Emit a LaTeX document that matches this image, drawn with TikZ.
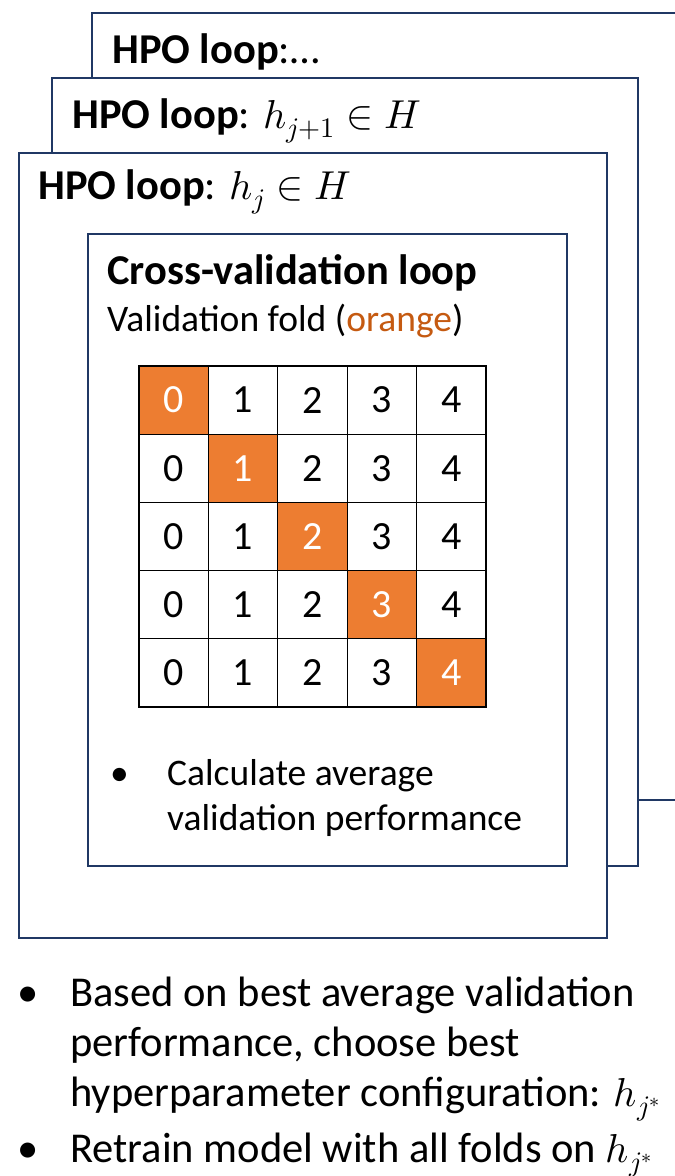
\documentclass[tikz,border=0pt]{standalone}
\usepackage{fontspec}
\usepackage{unicode-math}
\setmainfont{Carlito}
\setmathfont{Latin Modern Math}[Scale=0.95]
\usetikzlibrary{positioning}

\definecolor{loopblue}{HTML}{203864}
\definecolor{foldorange}{HTML}{ED7D31}
\definecolor{wordorange}{HTML}{C55A11}

\tikzset{
  loopbox/.style={draw=loopblue, line width=2pt, fill=white, anchor=north west, inner sep=0pt},
  looptitle/.style={anchor=base west, inner sep=0pt, font=\fontsize{42.5}{50}\selectfont},
  cvtext/.style={anchor=base west, inner sep=0pt, font=\fontsize{37.5}{45}\selectfont},
  bigtext/.style={anchor=base west, inner sep=0pt, font=\fontsize{42.5}{50}\selectfont},
  traincell/.style={draw=black, line width=1.3pt, fill=white, minimum width=69.4pt, minimum height=68.2pt, inner sep=0pt, font=\fontsize{40}{48}\selectfont},
  foldcell/.style={traincell, fill=foldorange, text=white}
}

\begin{document}
\begin{tikzpicture}[x=1pt, y=-1pt]
    \useasboundingbox (0,0) rectangle (675,1176);
    \clip (0,0) rectangle (675,1176);
    \fill[white] (0,0) rectangle (675,1176);

    \node[loopbox, minimum width=640pt, minimum height=787pt] (back) at (91,12) {};
    \node[loopbox, minimum width=586pt, minimum height=788pt] (middle) at (51,77) {};
    \node[loopbox, minimum width=588pt, minimum height=785pt] (front) at (18,152) {};
    \node[loopbox, minimum width=479pt, minimum height=632pt] (cv) at (87,233) {};

    \node[looptitle] (backtitle) at (112,63) {\textbf{HPO loop}:…};
    \node[looptitle] (middletitle) at (72,128) {\textbf{HPO loop}: $h_{j+1}\in H$};
    \node[looptitle] (fronttitle) at (38,199) {\textbf{HPO loop}: $h_{j}\in H$};

    \node[looptitle] (cvtitle) at (107,284) {\textbf{Cross-validation loop}};
    \node[cvtext, below=47pt of cvtitle.base west, anchor=base west] (cvsub)
        {Validation fold (\textcolor{wordorange}{orange})};

    \foreach \r in {0,...,4} {
        \foreach \c in {0,...,4} {
            \ifnum\r=\c \def\cellstyle{foldcell}\else\def\cellstyle{traincell}\fi
            \node[\cellstyle] (cell\r\c) at ({139+69.4*(\c+0.5)}, {366+68.2*(\r+0.5)}) {\c};
        }
    }

    \node[cvtext] (cvdot) at (110,785) {•};
    \node[cvtext] (cvnote1) at (167,785) {Calculate average};
    \node[cvtext, below=45pt of cvnote1.base west, anchor=base west] (cvnote2) {validation performance};

    \node[bigtext] (bestdot) at (17,1006) {•};
    \node[bigtext] (bestnote1) at (70,1006) {Based on best average validation};
    \node[bigtext, below=50pt of bestnote1.base west, anchor=base west] (bestnote2) {performance, choose best};
    \node[bigtext, below=50pt of bestnote2.base west, anchor=base west] (bestnote3) {hyperparameter configuration: $h_{j^{*}}$};
    \node[bigtext] (retraindot) at (17,1162) {•};
    \node[bigtext] (retrainnote) at (70,1162) {Retrain model with all folds on $h_{j^{*}}$};
\end{tikzpicture}
\end{document}
